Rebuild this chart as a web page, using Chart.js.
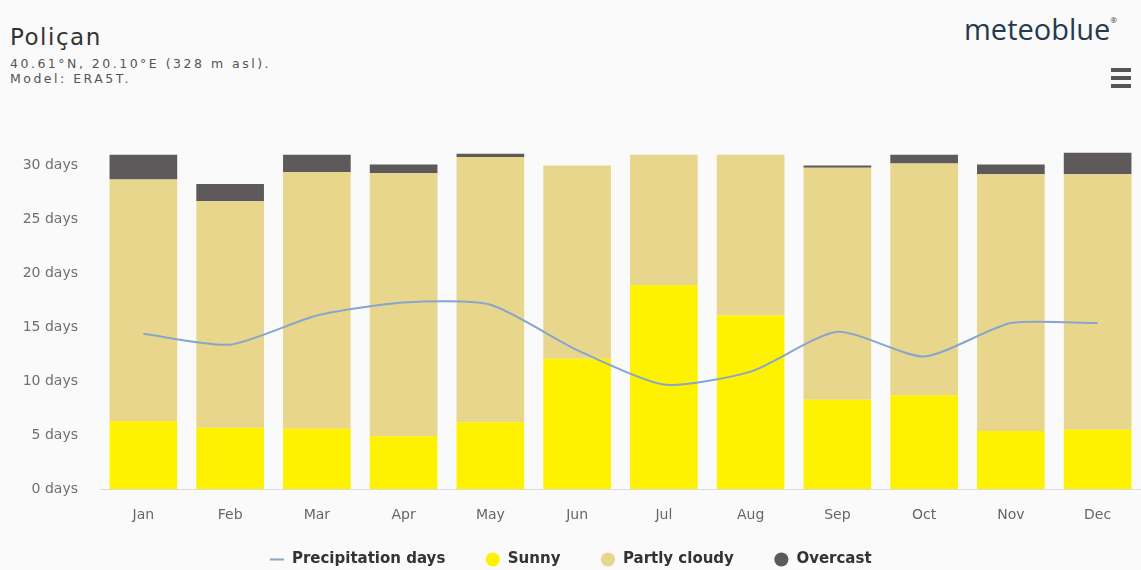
<!DOCTYPE html>
<html>
<head>
<meta charset="utf-8">
<script src="https://cdn.jsdelivr.net/npm/chart.js@4"></script>
<style>
  body { margin: 0; background: #fafafa; font-family: "DejaVu Sans", sans-serif; }
  #wrap { position: relative; width: 1141px; height: 570px; overflow: hidden; }
  #title { position: absolute; left: 10px; top: 24px; font-size: 23px; letter-spacing: 1.5px; color: #333; }
  #sub { position: absolute; left: 10px; top: 56px; font-size: 12.5px; letter-spacing: 2.5px; color: #555; line-height: 15px; }
  #logo { position: absolute; right: 24px; top: 9px; font-family: "Open Sans", sans-serif; font-weight: 500; font-size: 29px; color: #263a4e; }
  #logo sup { font-size: 8px; position: relative; top: -6px; }
  #menu { position: absolute; left: 1111px; top: 68px; width: 20px; }
  #menu div { height: 4px; background: #555; margin-bottom: 4px; }
  #box { position: absolute; left: 0; top: 120px; width: 1141px; height: 450px; }
</style>
</head>
<body>
<div id="wrap">
  <div id="title">Poliçan</div>
  <div id="sub">40.61°N, 20.10°E (328 m asl).<br>Model: ERA5T.</div>
  <div id="logo">meteoblue<sup>®</sup></div>
  <div id="menu"><div></div><div></div><div></div></div>
  <div id="box"><canvas id="chart"></canvas></div>
</div>
<script>
// Données
const months = ["Jan", "Feb", "Mar", "Apr", "May", "Jun", "Jul", "Aug", "Sep", "Oct", "Nov", "Dec"];
const sunny = [6.3, 5.7, 5.6, 4.9, 6.2, 12.1, 18.9, 16.1, 8.3, 8.7, 5.4, 5.5];
const partlyCloudy = [22.4, 21.0, 23.8, 24.4, 24.6, 17.9, 12.1, 14.9, 21.5, 21.5, 23.8, 23.7];
const overcast = [2.3, 1.6, 1.6, 0.8, 0.3, 0, 0, 0, 0.2, 0.8, 0.9, 2.0];
const precipitationDays = [14.4, 13.4, 16.1, 17.3, 17.1, 12.9, 9.7, 10.9, 14.6, 12.3, 15.4, 15.4];

// La légende est large en horizontal mais basse : on réduit sa hauteur
const tightLegend = {
    id: 'tightLegend',
    beforeLayout(chart) {
        const legend = chart.legend;
        if (!legend || legend._tight) return;
        legend._tight = true;
        const fit = legend.fit;
        const draw = legend.draw;
        legend.fit = function () { fit.call(this); this.height = 36; };
        legend.draw = function () {
            const top = this.top;
            this.top = top - 22;
            draw.call(this);
            this.top = top;
        };
    }
};

const ctx = document.getElementById("chart").getContext("2d");
new Chart(ctx, {
    type: 'bar',
    data: {
        labels: months,
        datasets: [{
            type: 'line',
            label: 'Precipitation days',
            data: precipitationDays,
            borderColor: '#86a6cf',
            backgroundColor: '#86a6cf',
            borderWidth: 2,
            pointRadius: 0,
            pointStyle: 'line',
            tension: 0.22,
            stack: 'precip',
            order: 0
        }, {
            label: 'Sunny',
            data: sunny,
            backgroundColor: '#fff200',
            pointStyle: 'circle',
            stack: 'weather',
            order: 1
        }, {
            label: 'Partly cloudy',
            data: partlyCloudy,
            backgroundColor: '#e8d68c',
            pointStyle: 'circle',
            stack: 'weather',
            order: 2
        }, {
            label: 'Overcast',
            data: overcast,
            backgroundColor: '#5e5a5b',
            pointStyle: 'circle',
            stack: 'weather',
            order: 3
        }]
    },
    plugins: [tightLegend],
    options: {
        responsive: true,
        maintainAspectRatio: false,
        animation: false,
        layout: { padding: { top: 24, right: 0, bottom: 0, left: 0 } },
        datasets: { bar: { categoryPercentage: 1, barPercentage: 0.78 } },
        plugins: {
            tooltip: { enabled: false },
            legend: {
                position: 'bottom',
                labels: {
                    usePointStyle: true,
                    boxHeight: 10,
                    padding: 40,
                    color: '#333',
                    font: { family: 'DejaVu Sans', size: 15, weight: 'bold' }
                }
            }
        },
        scales: {
            x: {
                stacked: true,
                grid: { display: false },
                border: { color: '#d6dbe6' },
                ticks: { color: '#666', padding: 10, font: { family: 'DejaVu Sans', size: 14 } }
            },
            y: {
                stacked: true,
                min: 0,
                max: 32,
                grid: { display: false },
                border: { display: false },
                afterFit: scale => { scale.width = 100; },
                ticks: {
                    stepSize: 5,
                    padding: 14,
                    color: '#707070',
                    font: { family: 'DejaVu Sans', size: 14 },
                    callback: v => (v % 5 === 0 ? v + ' days' : null)
                }
            }
        }
    }
});
</script>
</body>
</html>
